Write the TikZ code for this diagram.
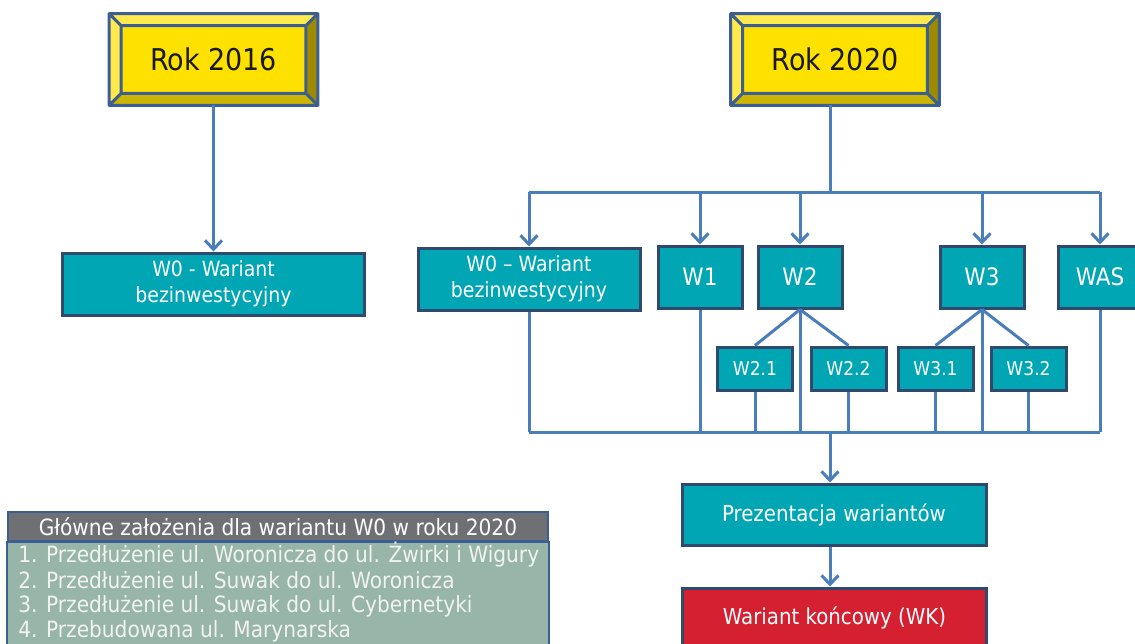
\documentclass[tikz,border=0pt]{standalone}
\usepackage{fontspec}
\setmainfont{DejaVu Sans Condensed}
\usetikzlibrary{calc,arrows.meta}
\definecolor{gold}{RGB}{255,225,0}
\definecolor{goldlight}{RGB}{255,233,77}
\definecolor{golddark}{RGB}{204,180,0}
\definecolor{goldshade}{RGB}{158,138,0}
\definecolor{tealbox}{RGB}{0,166,180}
\definecolor{boxedge}{RGB}{47,74,110}
\definecolor{lineblue}{RGB}{74,126,187}
\definecolor{wkred}{RGB}{212,32,48}
\definecolor{headgray}{RGB}{110,112,116}
\definecolor{bodygreen}{RGB}{151,181,168}
\definecolor{frameblue}{RGB}{59,95,147}
\tikzset{
   link/.style={draw=lineblue, line width=1.5pt},
   arrow/.style={link, -{Straight Barb[length=4.5pt, width=8.5pt]}},
   variant/.style={draw=boxedge, line width=1.5pt, fill=tealbox, text=white,
      align=center, inner sep=0pt, minimum width=42pt, minimum height=31pt,
      font=\fontsize{10.5}{13}\selectfont},
   subvariant/.style={variant, minimum width=37.5pt, minimum height=21.5pt,
      font=\fontsize{9.5}{11}\selectfont},
   yearbox/.style={fill=gold, text=black!90, inner sep=0pt,
      minimum width=104pt, minimum height=45.5pt,
      font=\fontsize{15}{18}\selectfont},
   rowtext/.style={anchor=west, text=white!95!black, inner sep=0pt,
      font=\fontsize{11.2}{13}\selectfont}
}
\begin{document}
\begin{tikzpicture}[x=0.5pt, y=-0.5pt]
   \useasboundingbox (0,0) rectangle (1135,643);
   \clip (0,0) rectangle (1135,643);
   % year boxes
   \foreach \u / \x / \t in {rok2016/213.5/Rok 2016, rok2020/835/Rok 2020} {
      \node[yearbox] (\u) at (\x, 59.5) {\t};
      \fill[goldlight] (\u.north west) -- (\u.north east) -- ($(\u.north east)+(-6pt,-6pt)$)
         -- ($(\u.north west)+(6pt,-6pt)$) -- cycle;
      \fill[goldlight] (\u.north west) -- (\u.south west) -- ($(\u.south west)+(6pt,6pt)$)
         -- ($(\u.north west)+(6pt,-6pt)$) -- cycle;
      \fill[golddark] (\u.south west) -- (\u.south east) -- ($(\u.south east)+(-6pt,6pt)$)
         -- ($(\u.south west)+(6pt,6pt)$) -- cycle;
      \fill[goldshade] (\u.north east) -- (\u.south east) -- ($(\u.south east)+(-6pt,6pt)$)
         -- ($(\u.north east)+(-6pt,-6pt)$) -- cycle;
      \draw[frameblue, line width=1.5pt, line join=round]
         (\u.north west) rectangle (\u.south east)
         ($(\u.north west)+(6pt,-6pt)$) rectangle ($(\u.south east)+(-6pt,6pt)$)
         (\u.north west) -- ++(6pt,-6pt) (\u.north east) -- ++(-6pt,-6pt)
         (\u.south west) -- ++(6pt,6pt) (\u.south east) -- ++(-6pt,6pt);
   }
   % variants
   \node[variant, minimum width=151pt] (w0a) at (213.5, 284) {W0 - Wariant\\bezinwestycyjny};
   \node[variant, minimum width=111pt] (w0b) at (529, 279) {W0 -- Wariant\\bezinwestycyjny};
   \def \Variants {
      w1/700/W1,
      w2/800/W2,
      w3/982/W3,
      was/1100/WAS}
   \def \Subvariants {
      w21/755/W2.1,
      w22/848.5/W2.2,
      w31/935.5/W3.1,
      w32/1028.5/W3.2}
   \foreach \u / \x / \t in \Variants {
      \node[variant, font=\fontsize{12}{14}\selectfont] (\u) at (\x, 277) {\t};
   }
   \foreach \u / \x / \t in \Subvariants {
      \node[subvariant] (\u) at (\x, 368.5) {\t};
   }
   \node[variant, minimum width=152pt, minimum height=30.5pt,
      font=\fontsize{11}{13}\selectfont] (prez) at (834, 514.5) {Prezentacja wariantów};
   \node[variant, fill=wkred, minimum width=152pt, minimum height=30pt,
      font=\fontsize{11}{13}\selectfont] (wk) at (834.5, 618) {Wariant końcowy (WK)};
   % connectors
   \draw[arrow] (rok2016.south) -- (w0a.north);
   \coordinate (split) at (830, 192);
   \coordinate (merge) at (830, 432);
   \path[link] (rok2020.south -| split) -- (split);
   \path[link] (w0b.north |- split) -- (was.north |- split);
   \foreach \u in {w0b, w1, w2, w3, was} {
      \path[arrow] (\u.north |- split) -- (\u.north);
   }
   \foreach \u / \v in {w2/w21, w2/w22, w3/w31, w3/w32} {
      \path[link] (\u.south) -- (\v.north);
   }
   \foreach \u in {w0b, w1, w2, w21, w22, w3, w31, w32, was} {
      \path[link] (\u.south) -- (\u.south |- merge);
   }
   \path[link] (w0b.south |- merge) -- (was.south |- merge);
   \draw[arrow] (merge) -- (prez.north -| merge);
   \draw[arrow] (prez.south -| merge) -- (wk.north -| merge);
   % assumptions table
   \node[draw=frameblue, line width=1pt, fill=headgray, text=white, inner sep=0pt,
      minimum width=270pt, minimum height=14.5pt,
      font=\fontsize{11.2}{13}\selectfont] (head) at (278, 526.5)
      {Główne założenia dla wariantu W0 w roku 2020};
   \draw[frameblue, line width=1pt, fill=bodygreen]
      (head.south west) rectangle ($(head.south east)+(0,-60pt)$);
   \foreach \u / \y / \t in {
      row1/555/1. Przedłużenie ul. Woronicza do ul. Żwirki i Wigury,
      row2/580.5/2. Przedłużenie ul. Suwak do ul. Woronicza,
      row3/606/3. Przedłużenie ul. Suwak do ul. Cybernetyki,
      row4/631.5/4. Przebudowana ul. Marynarska} {
      \node[rowtext] (\u) at (18, \y) {\t};
   }
\end{tikzpicture}
\end{document}
